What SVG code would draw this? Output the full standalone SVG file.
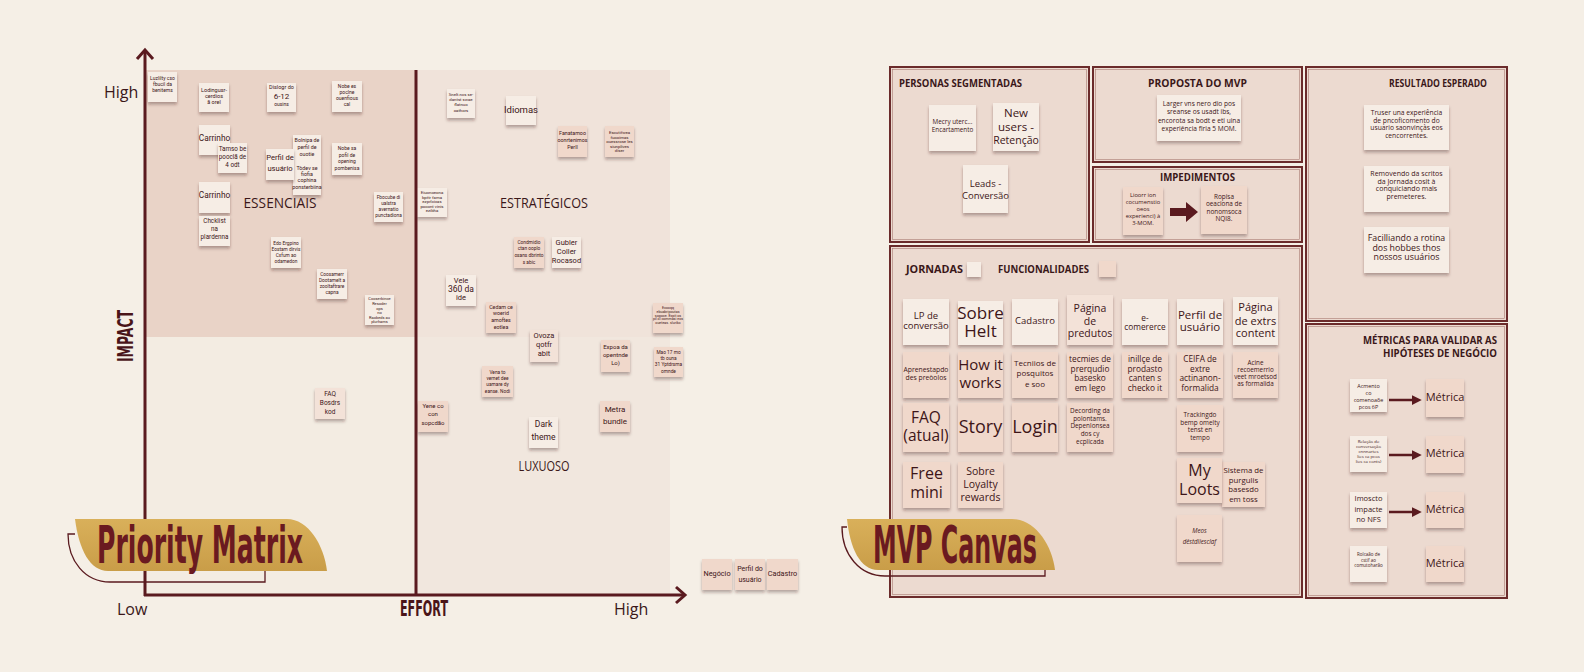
<svg xmlns="http://www.w3.org/2000/svg" width="1584" height="672" viewBox="0 0 1584 672">
<defs>
<filter id="sh" x="-30%" y="-30%" width="160%" height="170%"><feDropShadow dx="0" dy="2.5" stdDeviation="1.4" flood-color="#3b1d14" flood-opacity="0.35"/></filter>
<linearGradient id="gold" x1="0" y1="0" x2="0" y2="1"><stop offset="0" stop-color="#d9b05a"/><stop offset="1" stop-color="#c99d48"/></linearGradient>
<marker id="ah" markerWidth="4" markerHeight="4" refX="0.5" refY="2" orient="auto" markerUnits="strokeWidth"><path d="M0,0 L4,2 L0,4 Z" fill="#5a1a1f"/></marker>
</defs>
<style>
.mc{fill:#f6ede5}.mp{fill:#f0d8cb}.mq{fill:#f3e2d8}
rect.s{filter:url(#sh)}
.tn{font-family:"Liberation Sans Narrow","Roboto",sans-serif;fill:#3d1518;text-anchor:middle}
.to{font-family:"Open Sans","Noto Sans",sans-serif;fill:#3d1518;text-anchor:middle}
.h{font-family:"Open Sans","Noto Sans",sans-serif;font-weight:700;fill:#3a1719;font-size:11px}
.ax{font-family:"Open Sans","Noto Sans",sans-serif;fill:#3a1719;font-size:16px}
.q{font-family:"Open Sans","Noto Sans",sans-serif;fill:#3a1719;font-size:14px;text-anchor:middle}
.cond{font-family:"DejaVu Sans Condensed","Liberation Sans Narrow","Liberation Sans",sans-serif;font-weight:700}
.ln{stroke:#5a1a1f;fill:none}
.box{fill:#ecdad0;stroke:#6b2b2b;stroke-width:2}
.ib{fill:none;stroke:#a87a72;stroke-width:0.6}
</style>
<rect x="0" y="0" width="1584" height="672" fill="#f5efe6"/>

<g id="quadrants">
<rect x="145" y="70" width="271" height="267" fill="#e9d3c7"/>
<rect x="416" y="70" width="254" height="267" fill="#f0e3da"/>
<rect x="145" y="337" width="271" height="258" fill="#f3ece2"/>
<rect x="416" y="337" width="254" height="258" fill="#f1e7de"/>
</g>

<g id="axis-labels">
<text class="ax" x="104" y="98">High</text>
<text class="ax" x="117" y="615">Low</text>
<text class="ax" x="614" y="615">High</text>
<text class="cond" x="400" y="616" font-size="21" fill="#4a1519" textLength="48" lengthAdjust="spacingAndGlyphs">EFFORT</text>
<text class="cond" transform="translate(133,336) rotate(-90)" text-anchor="middle" font-size="21" fill="#4a1519" textLength="52" lengthAdjust="spacingAndGlyphs">IMPACT</text>
<text class="q" x="280" y="208" textLength="73" lengthAdjust="spacingAndGlyphs">ESSENCIAIS</text>
<text class="q" x="544" y="208" textLength="88" lengthAdjust="spacingAndGlyphs">ESTRATÉGICOS</text>
<text class="q" x="544" y="471" font-size="13.5" textLength="51" lengthAdjust="spacingAndGlyphs">LUXUOSO</text>
</g>

<g id="m1"><rect class="s mc" x="148" y="72" width="29" height="30"/><text class="tn" font-size="5"><tspan x="162.5" y="80">Luzlilty cso</tspan><tspan x="162.5" y="86">fbucil da</tspan><tspan x="162.5" y="92">benitems</tspan></text></g>
<g id="m2"><rect class="s mc" x="199" y="83" width="30" height="29"/><text class="tn" font-size="5.5"><tspan x="214" y="92">Lodingusr-</tspan><tspan x="214" y="98">cerdios</tspan><tspan x="214" y="104">ã orel</tspan></text></g>
<g id="m3"><rect class="s mc" x="267" y="83" width="29" height="29"/><text class="tn"><tspan x="281.5" y="89" font-size="5.5">Dislogr do</tspan><tspan x="281.5" y="99" font-size="8">6-12</tspan><tspan x="281.5" y="106" font-size="5">ousins</tspan></text></g>
<g id="m4"><rect class="s mc" x="332" y="81" width="30" height="31"/><text class="tn" font-size="5"><tspan x="347" y="88">Nobe es</tspan><tspan x="347" y="94">poclne</tspan><tspan x="347" y="100">ouenfious</tspan><tspan x="347" y="106">cal</tspan></text></g>
<g id="m5"><rect class="s mc" x="199" y="125" width="31" height="30"/><text class="tn" font-size="8.3" x="214.5" y="141">Carrinho</text></g>
<g id="m6"><rect class="s mc" x="218" y="143" width="29" height="30"/><text class="tn" font-size="6.3"><tspan x="232.5" y="151">Tamso be</tspan><tspan x="232.5" y="159">pooclã de</tspan><tspan x="232.5" y="167">4 odt</tspan></text></g>
<g id="m7"><rect class="s mc" x="293" y="135" width="28" height="60"/><text class="tn" font-size="5.3"><tspan x="307" y="142">Bolnipa de</tspan><tspan x="307" y="149">perfil de</tspan><tspan x="307" y="156">ouotie</tspan><tspan x="307" y="170">Tòdev se</tspan><tspan x="307" y="176">fiofia</tspan><tspan x="307" y="182">cophina</tspan><tspan x="307" y="189">ponsterbiina</tspan></text></g>
<g id="m8"><rect class="s mc" x="266" y="149" width="28" height="31"/><text class="tn" font-size="7.6"><tspan x="280" y="160">Perfil de</tspan><tspan x="280" y="171">usuário</tspan></text></g>
<g id="m9"><rect class="s mc" x="332" y="143" width="30" height="32"/><text class="tn" font-size="5"><tspan x="347" y="150">Nobe sa</tspan><tspan x="347" y="157">pofil de</tspan><tspan x="347" y="163">opening</tspan><tspan x="347" y="170">pombenisa</tspan></text></g>
<g id="m10"><rect class="s mc" x="199" y="182" width="31" height="31"/><text class="tn" font-size="8.3" x="214.5" y="198">Carrinho</text></g>
<g id="m11"><rect class="s mc" x="199" y="216" width="31" height="30"/><text class="tn" font-size="6.3"><tspan x="214.5" y="223">Chcklist</tspan><tspan x="214.5" y="231">na</tspan><tspan x="214.5" y="239">plardenna</tspan></text></g>
<g id="m12"><rect class="s mc" x="374" y="192" width="29" height="30"/><text class="tn" font-size="4.8"><tspan x="388.5" y="199">Fbocube di</tspan><tspan x="388.5" y="205">ualstra</tspan><tspan x="388.5" y="211">avernatio</tspan><tspan x="388.5" y="217">punctadiona</tspan></text></g>
<g id="m13"><rect class="s mc" x="271" y="237" width="30" height="31"/><text class="tn" font-size="4.8"><tspan x="286" y="245">Edo Ergpino</tspan><tspan x="286" y="251">Eostam dirvis</tspan><tspan x="286" y="257">Cxfum ao</tspan><tspan x="286" y="263">odamedon</tspan></text></g>
<g id="m14"><rect class="s mc" x="317" y="269" width="30" height="30"/><text class="tn" font-size="4.8"><tspan x="332" y="276">Coosamerr</tspan><tspan x="332" y="282">Dootamelt a</tspan><tspan x="332" y="288">zooltaftrare</tspan><tspan x="332" y="294">capna</tspan></text></g>
<g id="m15"><rect class="s mc" x="365" y="295" width="29" height="30"/><text class="tn" font-size="4"><tspan x="379.5" y="300">Cooserbince</tspan><tspan x="379.5" y="305">Resoder</tspan><tspan x="379.5" y="309.5">ops</tspan><tspan x="379.5" y="314">no</tspan><tspan x="379.5" y="318.5">Raobeds au</tspan><tspan x="379.5" y="323">plurhams</tspan></text></g>
<g id="m16"><rect class="s mc" x="447" y="89" width="28" height="29"/><text class="tn" font-size="4.3"><tspan x="461" y="96">Snelt.ncs se-</tspan><tspan x="461" y="101">dantst swae</tspan><tspan x="461" y="106">flatnuo</tspan><tspan x="461" y="112">oathors</tspan></text></g>
<g id="m17"><rect class="s mc" x="506" y="96" width="30" height="29"/><text class="tn" font-size="9.5" x="521" y="113">Idiomas</text></g>
<g id="m18"><rect class="s mp" x="558" y="126" width="29" height="31"/><text class="tn" font-size="5.3"><tspan x="572.5" y="135">Fanatamoo</tspan><tspan x="572.5" y="142">oonrtenimos</tspan><tspan x="572.5" y="149">Perll</tspan></text></g>
<g id="m19"><rect class="s mp" x="605" y="126" width="29" height="31"/><text class="tn" font-size="4.3"><tspan x="619.5" y="134">Escutifwea</tspan><tspan x="619.5" y="138.5">fuooimas</tspan><tspan x="619.5" y="143">ouessrose les</tspan><tspan x="619.5" y="147.5">siunplives</tspan><tspan x="619.5" y="152">diser</tspan></text></g>
<g id="m20"><rect class="s mc" x="417" y="188" width="30" height="29"/><text class="tn" font-size="4.3"><tspan x="432" y="194">Eiuonoeona</tspan><tspan x="432" y="198.5">bpttr fama</tspan><tspan x="432" y="203">ezprlcixas</tspan><tspan x="432" y="207.5">pocont vinis</tspan><tspan x="432" y="212">ezibha</tspan></text></g>
<g id="m21"><rect class="s mp" x="514" y="237" width="30" height="31"/><text class="tn" font-size="4.8"><tspan x="529" y="244">Condmidio</tspan><tspan x="529" y="250">ctan ooplo</tspan><tspan x="529" y="257">osans dbrinto</tspan><tspan x="529" y="264">s abic</tspan></text></g>
<g id="m22"><rect class="s mc" x="552" y="237" width="29" height="31"/><text class="tn" font-size="7.5"><tspan x="566.5" y="245">Gubler</tspan><tspan x="566.5" y="254">Coller</tspan><tspan x="566.5" y="263">Rocasod</tspan></text></g>
<g id="m23"><rect class="s mc" x="446" y="275" width="30" height="31"/><text class="tn"><tspan x="461" y="283" font-size="7.5">Vele</tspan><tspan x="461" y="292" font-size="8.5">360 da</tspan><tspan x="461" y="300" font-size="7.5">ide</tspan></text></g>
<g id="m24"><rect class="s mp" x="486" y="302" width="30" height="31"/><text class="tn" font-size="5.3"><tspan x="501" y="309">Cedam ce</tspan><tspan x="501" y="315">woerid</tspan><tspan x="501" y="322">amoftes</tspan><tspan x="501" y="329">eotlea</tspan></text></g>
<g id="m25"><rect class="s mq" x="530" y="330" width="28" height="32"/><text class="tn" font-size="7.5"><tspan x="544" y="338">Ovoza</tspan><tspan x="544" y="347">qotfr</tspan><tspan x="544" y="356">abit</tspan></text></g>
<g id="m26"><rect class="s mp" x="653" y="303" width="30" height="30"/><text class="tn" font-size="3.6"><tspan x="668" y="309">Exooqq</tspan><tspan x="668" y="313">ebuabripoutas</tspan><tspan x="668" y="316.5">sopoce. Expit os</tspan><tspan x="668" y="320">pil ol commasi eos</tspan><tspan x="668" y="323.5">oueteas. sluriko</tspan></text></g>
<g id="m27"><rect class="s mp" x="601" y="340" width="29" height="32"/><text class="tn" font-size="6"><tspan x="615.5" y="349">Expoa da</tspan><tspan x="615.5" y="357">opentnde</tspan><tspan x="615.5" y="365">Lo)</tspan></text></g>
<g id="m28"><rect class="s mp" x="654" y="347" width="29" height="30"/><text class="tn" font-size="4.8"><tspan x="668.5" y="354">Mao 17 mo</tspan><tspan x="668.5" y="360">tb ouna</tspan><tspan x="668.5" y="366">31 Yptdrsma</tspan><tspan x="668.5" y="373">omnde</tspan></text></g>
<g id="m29"><rect class="s mp" x="482" y="366" width="31" height="31"/><text class="tn" font-size="4.8"><tspan x="497.5" y="374">Vena to</tspan><tspan x="497.5" y="380">vernet dee</tspan><tspan x="497.5" y="386">uamare dy</tspan><tspan x="497.5" y="393">eanse. Nodi</tspan></text></g>
<g id="m30"><rect class="s mq" x="315" y="388" width="30" height="31"/><text class="tn" font-size="6.5"><tspan x="330" y="396">FAQ</tspan><tspan x="330" y="405">Bosdrs</tspan><tspan x="330" y="414">kod</tspan></text></g>
<g id="m31"><rect class="s mp" x="418" y="401" width="30" height="31"/><text class="tn" font-size="6"><tspan x="433" y="408">Yene co</tspan><tspan x="433" y="416">con</tspan><tspan x="433" y="425">sopcdão</tspan></text></g>
<g id="m32"><rect class="s mc" x="529" y="417" width="29" height="31"/><text class="tn" font-size="8.5"><tspan x="543.5" y="427">Dark</tspan><tspan x="543.5" y="440">theme</tspan></text></g>
<g id="m33"><rect class="s mp" x="600" y="401" width="30" height="31"/><text class="tn" font-size="8"><tspan x="615" y="412">Metra</tspan><tspan x="615" y="424">bundle</tspan></text></g>
<g id="m34"><rect class="s mp" x="702" y="559" width="30" height="31"/><text class="tn" font-size="7.3" x="717" y="576">Negócio</text></g>
<g id="m35"><rect class="s mp" x="735" y="559" width="30" height="31"/><text class="tn" font-size="7"><tspan x="750" y="571">Perfil do</tspan><tspan x="750" y="582">usuário</tspan></text></g>
<g id="m36"><rect class="s mp" x="767" y="559" width="31" height="31"/><text class="tn" font-size="7.3" x="782.5" y="576">Cadastro</text></g>

<g id="personas">
<rect class="box" x="890" y="67" width="199" height="175"/><rect class="ib" x="892.5" y="69.5" width="194" height="170"/>
<text class="h" x="899" y="87" textLength="123" lengthAdjust="spacingAndGlyphs">PERSONAS SEGMENTADAS</text>
</g>
<g id="p1"><rect class="s mc" x="929" y="105" width="47" height="46"/><text class="to" font-size="6.3"><tspan x="952.5" y="124">Mecry uterc...</tspan><tspan x="952.5" y="132">Encartamento</tspan></text></g>
<g id="p2"><rect class="s mc" x="993" y="103" width="46" height="48"/><text class="to" font-size="11.5"><tspan x="1016" y="117">New</tspan><tspan x="1016" y="130.5">users -</tspan><tspan x="1016" y="143.5" font-size="10.5">Retenção</tspan></text></g>
<g id="p3"><rect class="s mc" x="963" y="165" width="45" height="48"/><text class="to" font-size="9.5"><tspan x="985.5" y="187">Leads -</tspan><tspan x="985.5" y="198.5">Conversão</tspan></text></g>

<g id="proposta">
<rect class="box" x="1093" y="67" width="209" height="95"/><rect class="ib" x="1095.5" y="69.5" width="204" height="90"/>
<text class="h" x="1197.5" y="87" text-anchor="middle" textLength="99" lengthAdjust="spacingAndGlyphs">PROPOSTA DO MVP</text>
</g>
<g id="pr1"><rect class="s mc" x="1157" y="95" width="84" height="46"/><text class="to" font-size="6.6"><tspan x="1199" y="106">Larger vns nero dio pos</tspan><tspan x="1199" y="114">sreanse os usadt ibs,</tspan><tspan x="1199" y="123">encorota sa bodt e eti uina</tspan><tspan x="1199" y="131">experiência firia 5 MOM.</tspan></text></g>

<g id="impedimentos">
<rect class="box" x="1093" y="167" width="209" height="75"/><rect class="ib" x="1095.5" y="169.5" width="204" height="70"/>
<text class="h" x="1197.5" y="181" text-anchor="middle" textLength="75" lengthAdjust="spacingAndGlyphs">IMPEDIMENTOS</text>
</g>
<g id="i1"><rect class="s mp" x="1123" y="187" width="40" height="48"/><text class="to" font-size="5.8"><tspan x="1143" y="197">Lioorr ion</tspan><tspan x="1143" y="204">cocumenstio</tspan><tspan x="1143" y="211">oeos</tspan><tspan x="1143" y="218">experienci) à</tspan><tspan x="1143" y="225">3-MOM.</tspan></text></g>
<g id="i2"><rect class="s mp" x="1201" y="186" width="46" height="48"/><text class="to" font-size="6.4"><tspan x="1224" y="199">Ropisa</tspan><tspan x="1224" y="206">oeaciona de</tspan><tspan x="1224" y="214">nonomsoca</tspan><tspan x="1224" y="221">NQI8.</tspan></text></g>

<g id="resultado">
<rect class="box" x="1306" y="67" width="201" height="254"/><rect class="ib" x="1308.5" y="69.5" width="196" height="249"/>
<text class="h" x="1389" y="87" textLength="98" lengthAdjust="spacingAndGlyphs">RESULTADO ESPERADO</text>
</g>
<g id="r1"><rect class="s mc" x="1364" y="105" width="85" height="45"/><text class="to" font-size="6.7"><tspan x="1406.5" y="115">Truser una experiência</tspan><tspan x="1406.5" y="123">de pncoficomento do</tspan><tspan x="1406.5" y="130">usuario saonvinçàs eos</tspan><tspan x="1406.5" y="138">cencorrentes.</tspan></text></g>
<g id="r2"><rect class="s mc" x="1364" y="166" width="85" height="46"/><text class="to" font-size="7"><tspan x="1406.5" y="176">Removendo da scritos</tspan><tspan x="1406.5" y="183.5">da Jornada cosit à</tspan><tspan x="1406.5" y="191">conquiciando mais</tspan><tspan x="1406.5" y="198.5">premeteres.</tspan></text></g>
<g id="r3"><rect class="s mc" x="1364" y="227" width="85" height="46"/><text class="to" font-size="8.8"><tspan x="1406.5" y="241">Facilliando a rotina</tspan><tspan x="1406.5" y="250.5">dos hobbes thos</tspan><tspan x="1406.5" y="260">nossos usuários</tspan></text></g>

<g id="metricas">
<rect class="box" x="1306" y="324" width="201" height="274"/><rect class="ib" x="1308.5" y="326.5" width="196" height="269"/>
<text class="h" x="1497" y="344" text-anchor="end" textLength="134" lengthAdjust="spacingAndGlyphs">MÉTRICAS PARA VALIDAR AS</text>
<text class="h" x="1497" y="357" text-anchor="end" textLength="114" lengthAdjust="spacingAndGlyphs">HIPÓTESES DE NEGÓCIO</text>
</g>
<g id="mt1"><rect class="s mc" x="1350" y="379" width="37" height="33"/><text class="to" font-size="5.4"><tspan x="1368.5" y="388">Acmento</tspan><tspan x="1368.5" y="394.5">co</tspan><tspan x="1368.5" y="402">comenoaõe</tspan><tspan x="1368.5" y="409">pcos 6P</tspan></text></g>
<g id="mt1b"><rect class="s mp" x="1426" y="379" width="38" height="38"/><text class="to" font-size="11" x="1445" y="401">Métrica</text></g>
<g id="mt2"><rect class="s mc" x="1350" y="436" width="37" height="36"/><text class="to" font-size="4.3"><tspan x="1368.5" y="443">Relação de</tspan><tspan x="1368.5" y="448">conversação</tspan><tspan x="1368.5" y="453">cnnnartes</tspan><tspan x="1368.5" y="458">lies ca pcos</tspan><tspan x="1368.5" y="463">lies ca conts)</tspan></text></g>
<g id="mt2b"><rect class="s mp" x="1426" y="436" width="38" height="37"/><text class="to" font-size="11" x="1445" y="457">Métrica</text></g>
<g id="mt3"><rect class="s mc" x="1350" y="492" width="37" height="36"/><text class="to" font-size="7.5"><tspan x="1368.5" y="501">Imoscto</tspan><tspan x="1368.5" y="512">impacte</tspan><tspan x="1368.5" y="522">no NFS</tspan></text></g>
<g id="mt3b"><rect class="s mp" x="1426" y="492" width="38" height="36"/><text class="to" font-size="11" x="1445" y="513">Métrica</text></g>
<g id="mt4"><rect class="s mc" x="1350" y="546" width="37" height="36"/><text class="to" font-size="4.5"><tspan x="1368.5" y="556">Rolcaão de</tspan><tspan x="1368.5" y="561.5">cstif ao</tspan><tspan x="1368.5" y="567">comutoharão</tspan></text></g>
<g id="mt4b"><rect class="s mp" x="1426" y="546" width="38" height="36"/><text class="to" font-size="11" x="1445" y="567">Métrica</text></g>

<g id="jornadas">
<rect class="box" x="890" y="246" width="412" height="351"/><rect class="ib" x="892.5" y="248.5" width="407" height="346"/>
<text class="h" x="906" y="273" textLength="57" lengthAdjust="spacingAndGlyphs">JORNADAS</text>
<rect class="s mc" x="967" y="262" width="14" height="15"/>
<text class="h" x="998" y="273" textLength="91" lengthAdjust="spacingAndGlyphs">FUNCIONALIDADES</text>
<rect class="s mp" x="1099" y="261" width="17" height="16"/>
</g>
<g id="j1"><rect class="s mc" x="903" y="299" width="46" height="46"/><text class="to" font-size="9.5"><tspan x="926" y="319">LP de</tspan><tspan x="926" y="329">conversão</tspan></text></g>
<g id="j2"><rect class="s mc" x="958" y="301" width="45" height="44"/><text class="to" font-size="17"><tspan x="980.5" y="319">Sobre</tspan><tspan x="980.5" y="337">Helt</tspan></text></g>
<g id="j3"><rect class="s mc" x="1012" y="299" width="46" height="46"/><text class="to" font-size="9.5" x="1035" y="324">Cadastro</text></g>
<g id="j4"><rect class="s mq" x="1067" y="295" width="46" height="50"/><text class="to" font-size="10.5"><tspan x="1090" y="312">Página</tspan><tspan x="1090" y="325">de</tspan><tspan x="1090" y="337">predutos</tspan></text></g>
<g id="j5"><rect class="s mc" x="1122" y="299" width="46" height="46"/><text class="to" font-size="8.3"><tspan x="1145" y="321">e-</tspan><tspan x="1145" y="330">comererce</tspan></text></g>
<g id="j6"><rect class="s mc" x="1177" y="299" width="46" height="46"/><text class="to" font-size="11.5"><tspan x="1200" y="319">Perfil de</tspan><tspan x="1200" y="331">usuário</tspan></text></g>
<g id="j7"><rect class="s mc" x="1233" y="297" width="45" height="48"/><text class="to" font-size="11"><tspan x="1255.5" y="311">Página</tspan><tspan x="1255.5" y="325">de extrs</tspan><tspan x="1255.5" y="337">content</tspan></text></g>

<g id="f1"><rect class="s mp" x="903" y="352" width="46" height="46"/><text class="to" font-size="6.8"><tspan x="926" y="372">Aprenestapdo</tspan><tspan x="926" y="380">des preòolos</tspan></text></g>
<g id="f2"><rect class="s mp" x="958" y="352" width="45" height="46"/><text class="to" font-size="15"><tspan x="980.5" y="370">How it</tspan><tspan x="980.5" y="388">works</tspan></text></g>
<g id="f3"><rect class="s mp" x="1012" y="352" width="46" height="46"/><text class="to" font-size="8"><tspan x="1035" y="366">Tecniios de</tspan><tspan x="1035" y="376">posquitos</tspan><tspan x="1035" y="387">e soo</tspan></text></g>
<g id="f4"><rect class="s mp" x="1067" y="352" width="46" height="46"/><text class="to" font-size="8.3"><tspan x="1090" y="362">tecmies de</tspan><tspan x="1090" y="371.5">prerqudio</tspan><tspan x="1090" y="381">basesko</tspan><tspan x="1090" y="390.5">em lego</tspan></text></g>
<g id="f5"><rect class="s mp" x="1122" y="352" width="46" height="46"/><text class="to" font-size="8.3"><tspan x="1145" y="362">inillçe de</tspan><tspan x="1145" y="371.5">prodasto</tspan><tspan x="1145" y="381">canten s</tspan><tspan x="1145" y="390.5">checko it</tspan></text></g>
<g id="f6"><rect class="s mp" x="1177" y="352" width="46" height="46"/><text class="to" font-size="8.3"><tspan x="1200" y="362">CEIFA de</tspan><tspan x="1200" y="371.5">extre</tspan><tspan x="1200" y="381">actinanon-</tspan><tspan x="1200" y="390.5">formalida</tspan></text></g>
<g id="f7"><rect class="s mp" x="1233" y="352" width="45" height="46"/><text class="to" font-size="6.3"><tspan x="1255.5" y="365">Acine</tspan><tspan x="1255.5" y="372">recoemerrio</tspan><tspan x="1255.5" y="379">veet mroetsod</tspan><tspan x="1255.5" y="386">as formalida</tspan></text></g>

<g id="f8"><rect class="s mp" x="903" y="403" width="46" height="49"/><text class="to" font-size="15.5"><tspan x="926" y="423">FAQ</tspan><tspan x="926" y="441">(atual)</tspan></text></g>
<g id="f9"><rect class="s mp" x="958" y="403" width="45" height="49"/><text class="to" font-size="18" x="980.5" y="433">Story</text></g>
<g id="f10"><rect class="s mp" x="1012" y="403" width="46" height="49"/><text class="to" font-size="18" x="1035" y="433">Login</text></g>
<g id="f11"><rect class="s mp" x="1067" y="403" width="46" height="49"/><text class="to" font-size="6.4"><tspan x="1090" y="413">Decording da</tspan><tspan x="1090" y="420.5">polontams.</tspan><tspan x="1090" y="428">Depenlonsea</tspan><tspan x="1090" y="436">dos cy</tspan><tspan x="1090" y="444">ecplicada</tspan></text></g>
<g id="f12"><rect class="s mp" x="1177" y="405" width="46" height="47"/><text class="to" font-size="6.4"><tspan x="1200" y="417">Trackingdo</tspan><tspan x="1200" y="424.5">bemp omelty</tspan><tspan x="1200" y="432">tenst en</tspan><tspan x="1200" y="439.5">tempo</tspan></text></g>
<g id="f13"><rect class="s mp" x="903" y="462" width="47" height="46"/><text class="to" font-size="16"><tspan x="926.5" y="479">Free</tspan><tspan x="926.5" y="498">mini</tspan></text></g>
<g id="f14"><rect class="s mp" x="958" y="462" width="45" height="46"/><text class="to" font-size="10.5"><tspan x="980.5" y="475">Sobre</tspan><tspan x="980.5" y="488">Loyalty</tspan><tspan x="980.5" y="501">rewards</tspan></text></g>
<g id="f15"><rect class="s mp" x="1222" y="462" width="43" height="45"/><text class="to" font-size="7.8"><tspan x="1243.5" y="473">Sistema de</tspan><tspan x="1243.5" y="482.5">purgulis</tspan><tspan x="1243.5" y="492">basesdo</tspan><tspan x="1243.5" y="501.5">em toss</tspan></text></g>
<g id="f16"><rect class="s mp" x="1177" y="458" width="45" height="45"/><text class="to" font-size="16"><tspan x="1199.5" y="476">My</tspan><tspan x="1199.5" y="495">Loots</tspan></text></g>
<g id="f17"><rect class="s mp" x="1177" y="515" width="45" height="47"/><text class="to" font-size="6.2" font-style="italic"><tspan x="1199.5" y="532.5">Meos</tspan><tspan x="1199.5" y="543.5">dêstdliesclaf</tspan></text></g>

<g id="connectors">
<line class="ln" x1="145" y1="50" x2="145" y2="596" stroke-width="3"/>
<polyline class="ln" points="137,59 145,50 153,59" stroke-width="3"/>
<line class="ln" x1="144" y1="595" x2="684" y2="595" stroke-width="3"/>
<polyline class="ln" points="676,587 685,595 676,603" stroke-width="3"/>
<line class="ln" x1="416" y1="70" x2="416" y2="595" stroke-width="3"/>
<path d="M1170,208 L1186,208 L1186,202 L1198,212 L1186,222 L1186,216 L1170,216 Z" fill="#5a1a1f"/>
<line class="ln" x1="1389" y1="400" x2="1413" y2="400" stroke-width="2.5" marker-end="url(#ah)"/>
<line class="ln" x1="1389" y1="455" x2="1413" y2="455" stroke-width="2.5" marker-end="url(#ah)"/>
<line class="ln" x1="1389" y1="512" x2="1413" y2="512" stroke-width="2.5" marker-end="url(#ah)"/>
</g>

<g id="logo-priority">
<path d="M75,519 L287,519 C308,519 324,545 327,571 L108,571 C90,571 79,550 75,519 Z" fill="url(#gold)"/>
<path class="ln" stroke-width="1.3" d="M75,534 L68,534 C68,561 85,582 110,582 L265,582 L265,571"/>
<text class="cond" x="97" y="563" font-size="52" fill="#6a1a20" textLength="206" lengthAdjust="spacingAndGlyphs">Priority Matrix</text>
</g>

<g id="logo-mvp">
<path d="M847,519 L1012,519 C1035,519 1052,545 1055,570 L878,570 C860,570 850,548 847,519 Z" fill="url(#gold)"/>
<path class="ln" stroke-width="1.3" d="M847,527 L842,527 C842,555 860,576 885,576 L1045,576 L1045,570"/>
<text class="cond" x="873" y="563" font-size="52" fill="#6a1a20" textLength="164" lengthAdjust="spacingAndGlyphs">MVP Canvas</text>
</g>
</svg>
